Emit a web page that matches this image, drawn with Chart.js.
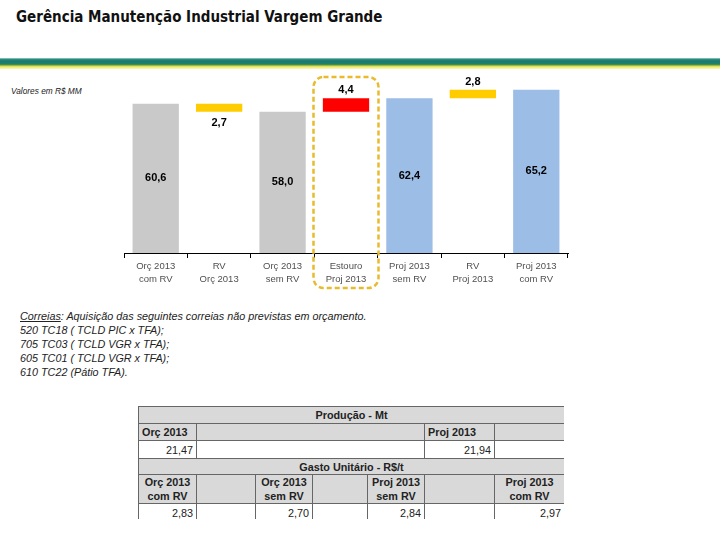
<!DOCTYPE html>
<html>
<head>
<meta charset="utf-8">
<script src="https://cdn.jsdelivr.net/npm/chart.js@4.4.0/dist/chart.umd.min.js"></script>
<style>
  body { margin: 0; width: 720px; height: 540px; background: #fff; position: relative; overflow: hidden; font-family: "Liberation Sans", Arial, sans-serif; }
  #titulo { position: absolute; left: 16px; top: 8px; font-family: "Liberation Sans Narrow", "DejaVu Sans Condensed", "Liberation Sans", sans-serif; font-weight: bold; font-size: 15px; color: #111; white-space: nowrap; }
  #faixa { position: absolute; left: 0; top: 58px; width: 720px; height: 11px;
    background: linear-gradient(to bottom, #bfe6e0 0px, #2f8f80 1px, #1b7a6c 3px, #1f8070 6px, #5f9a3a 7px, #d6d63c 8px, #eeea70 9px, #fbf8c8 11px); }
  #unidade { position: absolute; left: 11px; top: 86px; font-size: 8.3px; font-style: italic; color: #222; white-space: nowrap; }
  #grafico { position: absolute; left: 0; top: 70px; }
  #nota { position: absolute; left: 20px; top: 309px; font-size: 10.8px; font-style: italic; line-height: 14px; color: #222; white-space: nowrap; }
  #nota u { text-decoration: underline; }
  #tabela-box { position: absolute; left: 138px; top: 406px; width: 426px; height: 113px; overflow: hidden; }
  table { border-collapse: collapse; table-layout: fixed; width: 426px; font-size: 10.8px; color: #222; }
  td { border: 1px solid #666; padding: 0 3px; white-space: nowrap; overflow: hidden; }
  .cinza { background: #d9d9d9; }
  .tit { text-align: center; font-weight: bold; }
  .cab { font-weight: bold; }
  .num { text-align: right; }
</style>
</head>
<body>
<div id="titulo">Gerência Manutenção Industrial Vargem Grande</div>
<div id="faixa"></div>
<div id="unidade">Valores em R$ MM</div>
<canvas id="grafico" width="720" height="220"></canvas>
<div id="nota">
  <u>Correias</u>: Aquisição das seguintes correias não previstas em orçamento.<br>
  520 TC18 ( TCLD PIC x TFA);<br>
  705 TC03 ( TCLD VGR x TFA);<br>
  605 TC01 ( TCLD VGR x TFA);<br>
  610 TC22 (Pátio TFA).
</div>
<div id="tabela-box"><table id="tabela"></table></div>
<script>
// categorias do waterfall
const categorias = [
    ['Orç 2013', 'com RV'],
    ['RV', 'Orç 2013'],
    ['Orç 2013', 'sem RV'],
    ['Estouro', 'Proj 2013'],
    ['Proj 2013', 'sem RV'],
    ['RV', 'Proj 2013'],
    ['Proj 2013', 'com RV']
];
// valor mostrado em cada barra (negativo = redução)
const valores = [60.6, -2.7, 58.0, 4.4, 62.4, 2.8, 65.2];
// início e fim de cada barra (R$ MM)
const inicio = [0, 58.0, 0, 58.0, 0, 62.4, 0];
const fim = [60.6, 60.6, 58.0, 62.4, 62.4, 65.2, 65.2];
const cores = ['#c9c9c9', '#ffcc00', '#c9c9c9', '#ff0000', '#9cbde6', '#ffcc00', '#9cbde6'];

// tabela de produção e gasto unitário
const producaoOrc = 21.47;
const producaoProj = 21.94;
const gastoRotulos = [['Orç 2013', 'com RV'], ['Orç 2013', 'sem RV'], ['Proj 2013', 'sem RV'], ['Proj 2013', 'com RV']];
const gastoValores = [2.83, 2.70, 2.84, 2.97];

const fmt = (v, d) => Math.abs(v).toFixed(d).replace('.', ',');

const rotulosPlugin = {
    id: 'rotulos',
    afterDatasetsDraw(chart) {
        const ctx = chart.ctx;
        const area = chart.chartArea;
        const meta = chart.getDatasetMeta(0);
        ctx.save();
        ctx.font = 'bold 11px "Liberation Sans", Arial, sans-serif';
        ctx.fillStyle = '#000';
        ctx.textAlign = 'center';
        ctx.textBaseline = 'middle';
        meta.data.forEach((bar, i) => {
            const topo = Math.min(bar.y, bar.base);
            const baixo = Math.max(bar.y, bar.base);
            let y;
            if (inicio[i] === 0) {
                y = (topo + area.bottom) / 2;
            } else if (valores[i] < 0) {
                y = baixo + 11;
            } else {
                y = topo - 8;
            }
            ctx.fillText(fmt(valores[i], 1), bar.x, y);
        });
        ctx.restore();
    }
};

const destaquePlugin = {
    id: 'destaque',
    afterDraw(chart) {
        const ctx = chart.ctx;
        const area = chart.chartArea;
        const xs = chart.scales.x;
        const cx = xs.getPixelForValue(3);
        const w = 65, x0 = cx - w / 2, y0 = area.top + 2, y1 = area.bottom + 35, r = 10;
        ctx.save();
        ctx.strokeStyle = '#e8bb2e';
        ctx.lineWidth = 2.5;
        ctx.setLineDash([5, 3]);
        ctx.beginPath();
        ctx.roundRect(x0, y0, w, y1 - y0, r);
        ctx.stroke();
        ctx.restore();
    }
};

new Chart(document.getElementById('grafico').getContext('2d'), {
    type: 'bar',
    data: {
        labels: categorias,
        datasets: [{
            data: inicio.map((v, i) => [v, fim[i]]),
            backgroundColor: cores,
            borderWidth: 0,
            categoryPercentage: 1,
            barPercentage: 0.73
        }]
    },
    options: {
        responsive: false,
        animation: false,
        layout: { padding: { left: 124, right: 152, top: 5, bottom: 0 } },
        plugins: { legend: { display: false }, tooltip: { enabled: false } },
        scales: {
            x: {
                afterFit: s => { s.height = 37; },
                border: { display: true, color: '#000', width: 1 },
                grid: { display: true, drawOnChartArea: false, drawTicks: true, tickLength: 5, color: '#000', offset: true },
                ticks: { font: { family: '"Liberation Sans", Arial, sans-serif', size: 9.5, lineHeight: 1.35 }, color: '#505050', padding: 2, maxRotation: 0 }
            },
            y: { display: false, min: 12, max: 70 }
        }
    },
    plugins: [rotulosPlugin, destaquePlugin]
});

// monta a tabela
const tabela = document.getElementById('tabela');
const colunas = [58, 59, 57, 55, 57, 70, 70];
let html = '<colgroup>' + colunas.map(w => `<col style="width:${w}px">`).join('') + '</colgroup>';
html += '<tr class="cinza" style="height:17px"><td colspan="7" class="tit">Produção - Mt</td></tr>';
html += '<tr class="cinza" style="height:17px"><td class="cab">Orç 2013</td><td colspan="4"></td><td class="cab">Proj 2013</td><td></td></tr>';
html += `<tr style="height:18px"><td class="num">${fmt(producaoOrc, 2)}</td><td colspan="4"></td><td class="num">${fmt(producaoProj, 2)}</td><td></td></tr>`;
html += '<tr class="cinza" style="height:16px"><td colspan="7" class="tit">Gasto Unitário - R$/t</td></tr>';
html += '<tr class="cinza" style="height:29px">' + gastoRotulos.map((r, i) =>
    `<td class="tit" style="line-height:14px">${r[0]}<br>${r[1]}</td>` + (i < 3 ? '<td></td>' : '')).join('') + '</tr>';
html += '<tr style="height:18px">' + gastoValores.map((v, i) =>
    `<td class="num">${fmt(v, 2)}</td>` + (i < 3 ? '<td></td>' : '')).join('') + '</tr>';
tabela.innerHTML = html;
</script>
</body>
</html>
